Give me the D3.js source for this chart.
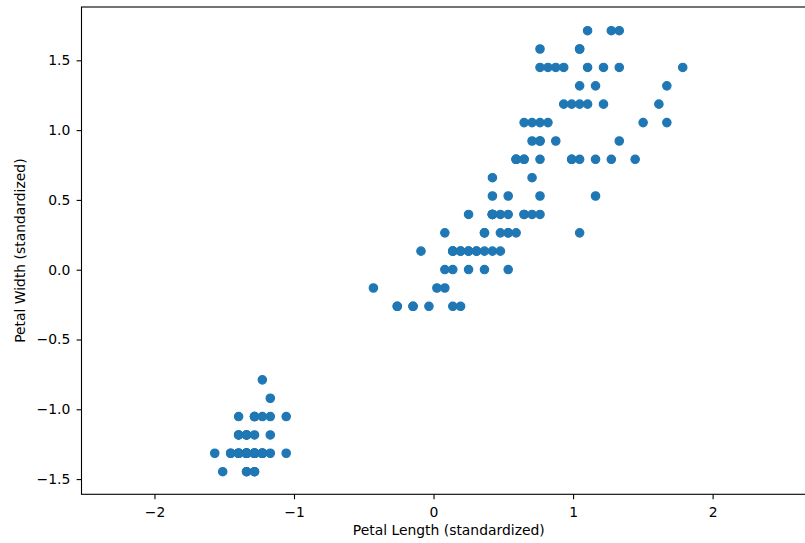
<!DOCTYPE html>
<html>
<head>
<meta charset="utf-8">
<script src="https://cdn.jsdelivr.net/npm/d3@7"></script>
<style>
  body { margin: 0; background: #fff; }
  svg { display: block; font-family: "DejaVu Sans", sans-serif; }
</style>
</head>
<body>
<div id="chart1"></div>
<script>
const petalLength = [
  -1.340, -1.340, -1.397, -1.283, -1.340, -1.170, -1.340, -1.283, -1.340, -1.283,
  -1.283, -1.227, -1.340, -1.511, -1.454, -1.283, -1.397, -1.340, -1.170, -1.283,
  -1.170, -1.283, -1.568, -1.170, -1.056, -1.227, -1.227, -1.283, -1.340, -1.227,
  -1.227, -1.283, -1.283, -1.340, -1.283, -1.454, -1.397, -1.340, -1.397, -1.283,
  -1.397, -1.397, -1.397, -1.227, -1.056, -1.340, -1.227, -1.340, -1.283, -1.340,
  0.535, 0.422, 0.649, 0.138, 0.479, 0.422, 0.535, -0.260, 0.479, 0.081,
  -0.147, 0.251, 0.138, 0.535, -0.090, 0.365, 0.422, 0.194, 0.422, 0.081,
  0.592, 0.138, 0.649, 0.535, 0.308, 0.365, 0.592, 0.706, 0.422, -0.147,
  0.024, -0.033, 0.081, 0.763, 0.422, 0.422, 0.535, 0.365, 0.194, 0.138,
  0.365, 0.479, 0.138, -0.260, 0.251, 0.251, 0.251, 0.308, -0.431, 0.194,
  1.274, 0.763, 1.218, 1.047, 1.161, 1.615, 0.422, 1.445, 1.161, 1.331,
  0.763, 0.876, 0.990, 0.706, 0.763, 0.876, 0.990, 1.672, 1.786, 0.706,
  1.104, 0.649, 1.672, 0.649, 1.104, 1.274, 0.592, 0.649, 1.047, 1.161,
  1.331, 1.502, 1.047, 0.763, 1.047, 1.331, 1.047, 0.990, 0.592, 0.933,
  1.047, 0.763, 0.763, 1.218, 1.104, 0.820, 0.706, 0.820, 0.933, 0.763
];

const petalWidth = [
  -1.315, -1.315, -1.315, -1.315, -1.315, -1.052, -1.184, -1.315, -1.315, -1.447,
  -1.315, -1.315, -1.447, -1.447, -1.315, -1.052, -1.052, -1.184, -1.184, -1.184,
  -1.315, -1.052, -1.315, -0.921, -1.315, -1.315, -1.052, -1.315, -1.315, -1.315,
  -1.315, -1.052, -1.447, -1.315, -1.315, -1.315, -1.315, -1.447, -1.315, -1.315,
  -1.184, -1.184, -1.315, -0.789, -1.052, -1.184, -1.315, -1.315, -1.315, -1.315,
  0.264, 0.396, 0.396, 0.133, 0.396, 0.133, 0.528, -0.262, 0.133, 0.264,
  -0.262, 0.396, -0.262, 0.264, 0.133, 0.264, 0.396, -0.262, 0.396, -0.131,
  0.791, 0.133, 0.396, 0.001, 0.133, 0.264, 0.264, 0.659, 0.396, -0.262,
  -0.131, -0.262, 0.001, 0.528, 0.396, 0.528, 0.396, 0.133, 0.133, 0.133,
  0.001, 0.264, 0.001, -0.262, 0.133, 0.001, 0.133, 0.133, -0.131, 0.133,
  1.712, 0.922, 1.186, 0.791, 1.317, 1.186, 0.659, 0.791, 0.791, 1.712,
  1.054, 0.922, 1.186, 1.054, 1.581, 1.449, 0.791, 1.317, 1.449, 0.396,
  1.449, 1.054, 1.054, 0.791, 1.186, 0.791, 0.791, 0.791, 1.186, 0.528,
  0.922, 1.054, 1.317, 0.396, 0.264, 1.449, 1.581, 0.791, 0.791, 1.186,
  1.581, 1.449, 0.922, 1.449, 1.712, 1.449, 0.922, 1.054, 1.449, 0.791
];

const xTicks = [-2, -1, 0, 1, 2];
const yTicks = [-1.5, -1.0, -0.5, 0.0, 0.5, 1.0, 1.5];

function init() {
  const W = 805, H = 543;
  // axes box (right spine falls just outside the picture)
  const margin = { top: 7, right: -11, bottom: 48.7, left: 81.5 },
        width = W - margin.left - margin.right,
        height = H - margin.top - margin.bottom;

  const svg = d3.select("#chart1")
    .append("svg")
    .attr("width", W)
    .attr("height", H)
    .append("g")
    .attr("transform", "translate(" + margin.left + "," + margin.top + ")");

  const xScale = d3.scaleLinear()
    .domain([-2.523, 2.741])
    .range([0, width]);

  const yScale = d3.scaleLinear()
    .domain([-1.609, 1.882])
    .range([height, 0]);

  const data = petalLength.map((v, i) => ({ x: v, y: petalWidth[i] }));

  // points
  svg.append("g")
    .selectAll("circle")
    .data(data)
    .enter()
    .append("circle")
    .attr("cx", d => xScale(d.x))
    .attr("cy", d => yScale(d.y))
    .attr("r", 4.2)
    .attr("fill", "#1f77b4")
    .attr("stroke", "#1f77b4")
    .attr("stroke-width", 1.2);

  const tickLen = 4.9;

  // x axis
  const xAxis = svg.append("g")
    .attr("transform", "translate(0," + height + ")")
    .call(d3.axisBottom(xScale).tickValues(xTicks).tickFormat(d3.format("d"))
      .tickSizeInner(tickLen).tickSizeOuter(0).tickPadding(4.9));
  xAxis.selectAll(".tick text").attr("dy", "12.6px");

  // y axis
  const yAxis = svg.append("g")
    .call(d3.axisLeft(yScale).tickValues(yTicks).tickFormat(d3.format(".1f"))
      .tickSizeInner(tickLen).tickSizeOuter(0).tickPadding(6.3));

  [xAxis, yAxis].forEach(ax => {
    ax.select(".domain").remove();
    ax.selectAll(".tick line").attr("stroke", "#000").attr("stroke-width", 1.1);
    ax.selectAll(".tick text")
      .attr("fill", "#000")
      .style("font-size", "13.9px")
      .style("font-family", "'DejaVu Sans', sans-serif");
  });

  // spines
  svg.append("rect")
    .attr("x", 0)
    .attr("y", 0)
    .attr("width", width)
    .attr("height", height)
    .attr("fill", "none")
    .attr("stroke", "#000")
    .attr("stroke-width", 1.1);

  // axis labels
  svg.append("text")
    .attr("x", width / 2)
    .attr("y", height + 41)
    .attr("text-anchor", "middle")
    .style("font-size", "13.9px")
    .attr("fill", "#000")
    .text("Petal Length (standardized)");

  svg.append("text")
    .attr("transform", "rotate(-90)")
    .attr("x", -height / 2)
    .attr("y", -57)
    .attr("text-anchor", "middle")
    .style("font-size", "13.9px")
    .attr("fill", "#000")
    .text("Petal Width (standardized)");
}

window.onload = init;
</script>
</body>
</html>
